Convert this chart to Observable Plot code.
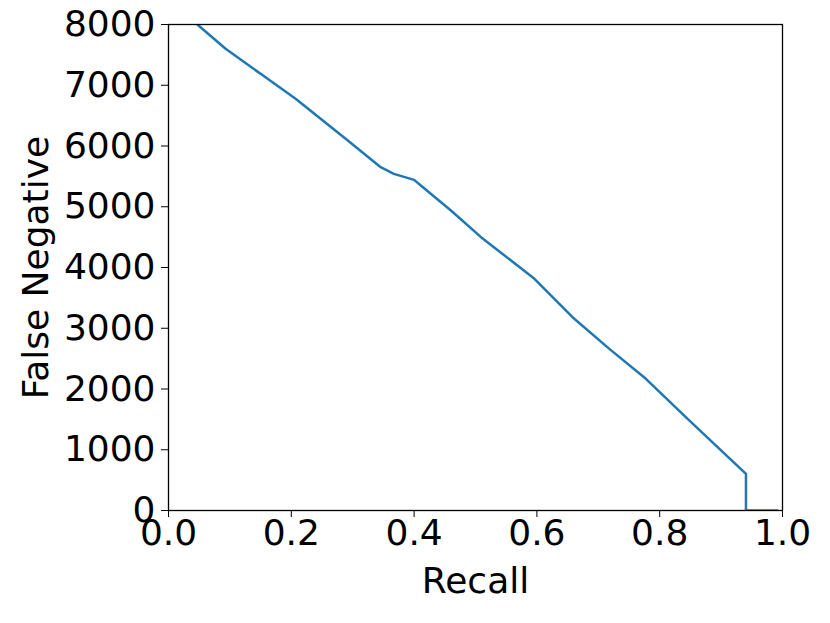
<!DOCTYPE html>
<html>
<head>
<meta charset="utf-8">
<script src="https://cdn.jsdelivr.net/npm/d3@7"></script>
<script src="https://cdn.jsdelivr.net/npm/@observablehq/plot@0.6"></script>
<style>
  html, body { margin: 0; padding: 0; background: #fff; }
  #chart svg { display: block; }
</style>
</head>
<body>
<div id="chart"></div>
<script>
const recall = [0.047, 0.093, 0.150, 0.207, 0.2885, 0.3456, 0.367, 0.400, 0.411, 0.460, 0.509, 0.596, 0.658, 0.718, 0.7775, 0.8455, 0.9405, 0.9405, 0.992];
const falseNegative = [8000, 7600, 7188, 6777, 6118, 5651, 5542, 5443, 5350, 4938, 4499, 3814, 3182, 2661, 2168, 1509, 604, 0, 0];
const xTicks = [0, 0.2, 0.4, 0.6, 0.8, 1.0];
const yTicks = [0, 1000, 2000, 3000, 4000, 5000, 6000, 7000, 8000];

const data = recall.map((r, i) => ({recall: r, fn: falseNegative[i]}));

const chart = Plot.plot({
  width: 830,
  height: 623,
  marginLeft: 168,
  marginRight: 48,
  marginTop: 24,
  marginBottom: 113,
  style: {fontFamily: "DejaVu Sans", fontSize: "36px", color: "#000", background: "#fff"},
  x: {domain: [0, 1]},
  y: {domain: [0, 8000]},
  marks: [
    Plot.axisX({ticks: xTicks, tickFormat: d3.format(".1f"), tickSize: 7, tickPadding: 2,
      label: "Recall", labelAnchor: "center", labelArrow: "none", labelOffset: 82}),
    Plot.axisY({ticks: yTicks, tickFormat: d => String(d), tickSize: 7, tickPadding: 6,
      label: "False Negative", labelAnchor: "center", labelArrow: "none", labelOffset: 146}),
    Plot.line(data, {x: "recall", y: "fn", stroke: "#1f77b4", strokeWidth: 2.5, clip: true}),
    Plot.frame({stroke: "#000", strokeWidth: 1.3})
  ]
});
document.getElementById("chart").appendChild(chart);
</script>
</body>
</html>
